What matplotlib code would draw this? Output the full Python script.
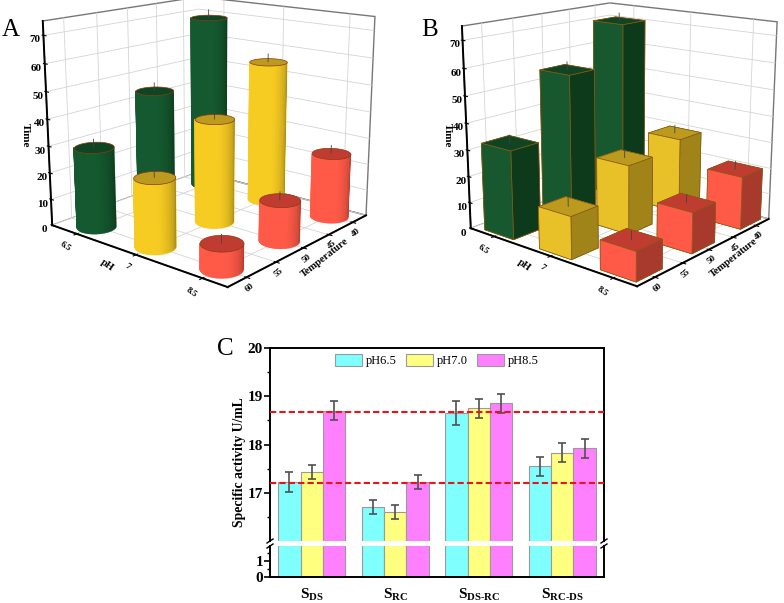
import numpy as np
import matplotlib
matplotlib.use("Agg")
import matplotlib.pyplot as plt
from matplotlib.lines import Line2D
from mpl_toolkits.mplot3d.art3d import Poly3DCollection

plt.rcParams['font.family'] = ['Liberation Serif', 'DejaVu Serif']
plt.rcParams['mathtext.fontset'] = 'custom'
plt.rcParams['mathtext.rm'] = 'Liberation Serif'
plt.rcParams['mathtext.bf'] = 'Liberation Serif:bold'

ph_labels = ['6.5', '7', '8.5']
ph_pos = [0, 1, 2]
temp_ticks = [40, 45, 50, 55, 60]
bar_temps = [60, 50, 40]

# rows are pH, columns follow bar_temps
time_a = [[30, 45, 69], [25, 39, 55], [9, 15, 24.5]]
time_b = [[33, 55, 70], [15.5, 26, 29], [10.5, 15, 20]]
whisker_a = [[3, 3, 3], [3, 3, 3], [3, 3, 3]]
whisker_b = [[3, 3, 3], [3, 3, 3], [3, 3, 3]]

side_cols = ['#14592F', '#F6CB22', '#FF5A48']
box_cols = ['#17582E', '#E8C128', '#FF5A48']
dark_cols = ['#0E3A1C', '#A0841A', '#A83A2D']
top_cols = ['#0F4522', '#BC9A1E', '#C03C30']

samples = ['DS', 'RC', 'DS-RC', 'RC-DS']
ph65 = [17.22, 16.70, 18.65, 17.55]
ph70 = [17.43, 16.60, 18.75, 17.83]
ph85 = [18.70, 17.22, 18.85, 17.92]
err65 = [0.20, 0.15, 0.25, 0.20]
err70 = [0.15, 0.15, 0.20, 0.20]
err85 = [0.20, 0.15, 0.20, 0.20]
ref_lines = [18.68, 17.20]


def setup_3d(ax, zoom, zasp):
    ax.view_init(elev=15, azim=-50)
    ax.set_proj_type('persp', focal_length=0.55)
    ax.set_box_aspect((1, 1, zasp), zoom=zoom)
    ax.set_xlim(-0.45, 2.35)
    ax.set_ylim(63, 37)
    ax.set_zlim(0, 75)
    ax.set_xticks(ph_pos)
    ax.set_xticklabels(ph_labels, fontsize=6.5, fontweight='bold', rotation=-35, ha='right')
    ax.set_yticks(temp_ticks)
    ax.set_yticklabels(temp_ticks, fontsize=6.5, fontweight='bold', rotation=40)
    ax.set_zticks(range(0, 71, 10))
    ax.set_zticklabels(range(0, 71, 10), fontsize=8, fontweight='bold')
    ax.zaxis.set_ticks_position('upper')
    ax.tick_params(axis='x', pad=-5)
    ax.tick_params(axis='y', pad=-6)
    ax.tick_params(axis='z', pad=-5)
    for axis in (ax.xaxis, ax.yaxis, ax.zaxis):
        axis.set_pane_color((1, 1, 1, 1))
        axis.pane.set_edgecolor('#777777')
        axis.line.set_linewidth(1.4)
        axis.line.set_color('black')
        axis._axinfo['grid']['color'] = '#d4d4d4'
        axis._axinfo['grid']['linewidth'] = 0.6
        axis._axinfo['tick']['color'] = 'black'


def cylinder(ax, x, t, h, i, order, rx=0.24, rt=2.25):
    # only the half that faces the camera, left edge to right edge
    th = np.radians(np.linspace(140, -40, 25))
    xs = x + rx * np.cos(th)
    ys = t + rt * np.sin(th)
    light = np.array(matplotlib.colors.to_rgb(side_cols[i]))
    dark = np.array(matplotlib.colors.to_rgb(dark_cols[i]))
    frac = np.linspace(0, 1, len(th) - 1)
    s = np.clip((frac - 0.55) / 0.45, 0, 1) ** 1.5
    cols = light[None, :] * (1 - s[:, None]) + dark[None, :] * s[:, None]
    # solid backing so the strips do not let the background through
    back = list(zip(xs, ys, np.zeros(len(th)))) + list(zip(xs[::-1], ys[::-1], np.full(len(th), h)))
    ax.add_collection3d(Poly3DCollection([back], facecolor=side_cols[i], edgecolor=side_cols[i],
                                         linewidth=0.3, zorder=order - 0.1))
    quads = []
    for k in range(len(th) - 1):
        quads.append([(xs[k], ys[k], 0), (xs[k + 1], ys[k + 1], 0), (xs[k + 1], ys[k + 1], h), (xs[k], ys[k], h)])
    side = Poly3DCollection(quads, facecolors=cols, edgecolors=cols, linewidths=0.3, zorder=order)
    ax.add_collection3d(side)
    ring = np.linspace(-np.pi, np.pi, 61)
    verts = list(zip(x + rx * np.cos(ring), t + rt * np.sin(ring), np.full(61, h)))
    top = Poly3DCollection([verts], facecolor=top_cols[i], edgecolor='#8a3a12', linewidth=0.5, zorder=order + 0.1)
    ax.add_collection3d(top)


def box(ax, x, t, h, i, order, dx=0.27, dt=2.25):
    cols = [box_cols[i], top_cols[i], dark_cols[i], box_cols[i], box_cols[i], dark_cols[i]]
    ax.bar3d(x - dx, t - dt, 0, 2 * dx, 2 * dt, h, color=cols, shade=False,
             edgecolor='#8a5a12', linewidth=0.5, zorder=order)


def draw_panel(ax, values, whisk, kind, zoom, zasp):
    setup_3d(ax, zoom, zasp)
    for i, x in enumerate(ph_pos):
        for j, t in enumerate(bar_temps):
            order = 10 * (i + (2 - j)) + 5
            h = values[i][j]
            if kind == 'cyl':
                cylinder(ax, x, t, h, i, order)
            else:
                box(ax, x, t, h, i, order)
            ax.plot([x, x], [t, t], [h, h + whisk[i][j]], color='#444444', lw=0.6, zorder=order + 1)
    for art in list(ax.collections) + list(ax.lines):
        art.set_clip_on(False)


fig = plt.figure(figsize=(7.84, 6.03), dpi=100)
W, H = 784, 603

ax_a = fig.add_axes([-0.016, 0.525, 0.56, 0.53], projection='3d', computed_zorder=False)
draw_panel(ax_a, time_a, whisker_a, 'cyl', 1.17, 0.91)
ax_b = fig.add_axes([0.5075, 0.518, 0.56, 0.53], projection='3d', computed_zorder=False)
draw_panel(ax_b, time_b, whisker_b, 'box', 1.125, 0.95)

# axis titles of the 3d panels
for dx_t, dx_p, dx_tm in [(325, 107, 25), (734, 524, 447)]:
    fig.text(dx_p / W, 1 - 265 / H, 'pH', fontsize=7.5, fontweight='bold', rotation=-35, ha='center', va='center')
    fig.text(dx_t / W, 1 - 258 / H, 'Temperature', fontsize=7.5, fontweight='bold', rotation=38, ha='center', va='center')
    fig.text(dx_tm / W, 1 - 135 / H, 'Time', fontsize=8, fontweight='bold', rotation=-90, ha='center', va='center')

# panel C, broken y axis
left, right = 270 / W, 604 / W
ax_hi = fig.add_axes([left, 1 - 541 / H, right - left, (541 - 348) / H])
ax_lo = fig.add_axes([left, 1 - 577 / H, right - left, (577 - 546) / H], sharex=ax_hi)

x = np.arange(len(samples))
w = 0.267
series = [(ph65, err65, '#80FFFF', 'pH6.5'), (ph70, err70, '#FFFF80', 'pH7.0'), (ph85, err85, '#FF80FF', 'pH8.5')]
for k, (vals, errs, col, lab) in enumerate(series):
    pos = x + (k - 1) * w
    for a in (ax_hi, ax_lo):
        a.bar(pos, vals, w, color=col, edgecolor='#9a9a9a', linewidth=0.8, label=lab)
    ax_hi.errorbar(pos, vals, yerr=errs, fmt='none', ecolor='#505050', elinewidth=1.2, capsize=3, capthick=1.2)

for y in ref_lines:
    ax_hi.axhline(y, color='#E8141C', lw=1.5, ls=(0, (3, 1.5)), zorder=5)

ax_hi.set_ylim(16, 20)
ax_lo.set_ylim(0, 1.95)
ax_hi.set_xlim(-0.5, 3.5)
ax_hi.set_yticks([17, 18, 19, 20])
ax_hi.set_yticks([16.5, 17.5, 18.5, 19.5], minor=True)
ax_lo.set_yticks([0, 1])
ax_lo.set_yticks([0.5, 1.5], minor=True)
ax_lo.set_xticks(x)
ax_lo.set_xticklabels(['S$_{\\mathbf{%s}}$' % s.replace('-', '\\text{-}') for s in samples],
                      fontsize=11, fontweight='bold')
ax_hi.tick_params(axis='x', which='both', bottom=False, labelbottom=False)
ax_lo.tick_params(axis='x', length=0, pad=7)
for a in (ax_hi, ax_lo):
    a.tick_params(axis='y', which='major', width=1.2, length=4, direction='out', labelsize=11, pad=1)
    a.tick_params(axis='y', which='minor', width=1.0, length=2.5, direction='out')
    for lab in a.get_yticklabels():
        lab.set_fontweight('bold')
    for sp in a.spines.values():
        sp.set_linewidth(1.4)
ax_hi.spines['bottom'].set_visible(False)
ax_lo.spines['top'].set_visible(False)
ax_hi.set_ylabel('Specific activity U/mL', fontsize=9.8, fontweight='bold', labelpad=1, y=0.41)

# break marks on both sides
for fx in (left, right):
    for fy in (541, 546):
        fig.add_artist(Line2D([fx - 3 / W, fx + 3 / W], [1 - (fy + 2) / H, 1 - (fy - 2) / H], color='black', lw=1))

ax_hi.legend(loc='upper center', ncol=3, frameon=False, fontsize=9, handlelength=2.16, handleheight=1.05,
             columnspacing=0.75, handletextpad=0.3, borderaxespad=0.1, bbox_to_anchor=(0.5, 1.0))

fig.text(2 / W, 1 - 36 / H, 'A', fontsize=18)
fig.text(421 / W, 1 - 36 / H, 'B', fontsize=18)
fig.text(217 / W, 1 - 355 / H, 'C', fontsize=18)

fig.savefig('out.png', dpi=100)
